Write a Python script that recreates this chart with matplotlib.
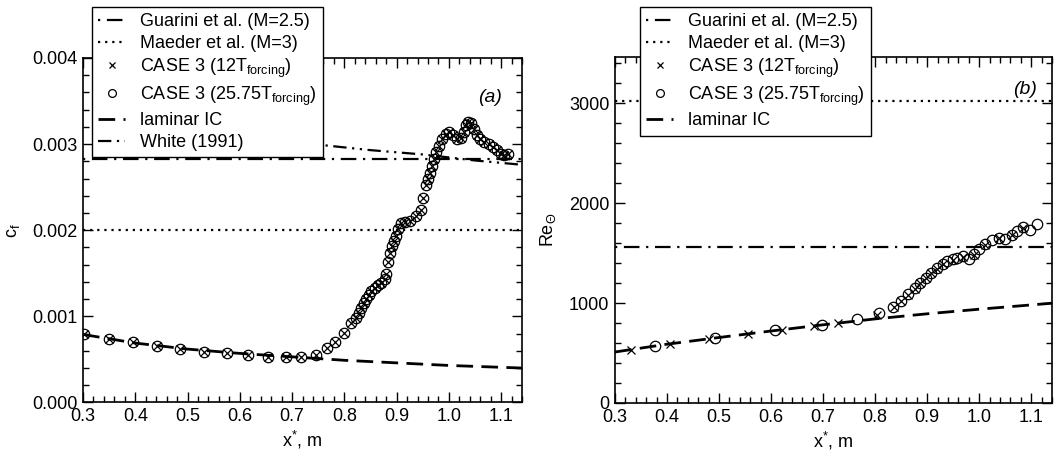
import matplotlib
matplotlib.use("Agg")
import matplotlib.pyplot as plt
from matplotlib.ticker import MultipleLocator

plt.rcParams['font.family'] = ['Liberation Sans', 'DejaVu Sans']
plt.rcParams['mathtext.fontset'] = 'custom'
plt.rcParams['mathtext.rm'] = 'Liberation Sans'
plt.rcParams['mathtext.it'] = 'Liberation Sans:italic'
plt.rcParams['font.size'] = 13

# ---- panel (a): skin friction ----
lam_cf_x = [0.30, 0.40, 0.50, 0.60, 0.70, 0.80, 0.90, 1.00, 1.14]
lam_cf = [0.00079, 0.00069, 0.00062, 0.00057, 0.00053, 0.00049, 0.00046, 0.00043, 0.00040]

guarini_cf = 0.00283
maeder_cf = 0.00200

white_x = [0.45, 0.60, 0.756, 0.85, 0.95, 1.05, 1.14]
white_cf = [0.00310, 0.00305, 0.00299, 0.00293, 0.00288, 0.00281, 0.00276]

case3_cf_x = [0.302, 0.350, 0.395, 0.441, 0.486, 0.531, 0.575, 0.616, 0.654, 0.688,
              0.718, 0.745, 0.766, 0.783, 0.799, 0.813, 0.822, 0.828, 0.832, 0.837,
              0.842, 0.847, 0.851, 0.858, 0.864, 0.871, 0.877, 0.880, 0.883, 0.888,
              0.892, 0.895, 0.898, 0.902, 0.909, 0.917, 0.925, 0.937, 0.947, 0.951,
              0.956, 0.960, 0.964, 0.967, 0.971, 0.976, 0.981, 0.987, 0.995, 1.001,
              1.007, 1.015, 1.023, 1.028, 1.032, 1.036, 1.042, 1.049, 1.053, 1.060,
              1.068, 1.076, 1.084, 1.092, 1.100, 1.106, 1.113]
case3_cf = [0.00079, 0.00074, 0.00070, 0.00066, 0.00062, 0.00059, 0.00057, 0.00055, 0.00053, 0.00053,
            0.00053, 0.00055, 0.00063, 0.00070, 0.00081, 0.00092, 0.00098, 0.00104, 0.00110, 0.00116,
            0.00120, 0.00125, 0.00129, 0.00133, 0.00136, 0.00139, 0.00143, 0.00149, 0.00163, 0.00174,
            0.00182, 0.00188, 0.00193, 0.00201, 0.00208, 0.00210, 0.00211, 0.00216, 0.00223, 0.00238,
            0.00252, 0.00260, 0.00267, 0.00275, 0.00283, 0.00291, 0.00298, 0.00306, 0.00312, 0.00314,
            0.00310, 0.00306, 0.00307, 0.00314, 0.00322, 0.00326, 0.00324, 0.00318, 0.00310, 0.00306,
            0.00303, 0.00300, 0.00297, 0.00293, 0.00289, 0.00287, 0.00288]

# ---- panel (b): momentum thickness Reynolds number ----
lam_re_x = [0.30, 0.40, 0.50, 0.60, 0.70, 0.80, 0.90, 1.00, 1.14]
lam_re = [510, 588, 655, 720, 782, 841, 892, 938, 998]

guarini_re = 1560
maeder_re = 3020

x12_re_x = [0.331, 0.406, 0.481, 0.555, 0.620, 0.682, 0.729, 0.803, 0.836, 0.850,
            0.863, 0.876, 0.887, 0.898, 0.907, 0.919, 0.930, 0.949, 0.968, 0.990,
            1.012, 1.038, 1.063, 1.085]
x12_re = [530, 593, 639, 692, 734, 772, 799, 884, 958, 1020,
          1085, 1145, 1200, 1250, 1300, 1345, 1390, 1435, 1465, 1485,
          1585, 1650, 1680, 1755]

x25_re_x = [0.376, 0.493, 0.607, 0.698, 0.765, 0.808, 0.834, 0.850, 0.863, 0.876,
            0.887, 0.898, 0.907, 0.919, 0.930, 0.939, 0.949, 0.958, 0.968, 0.981,
            0.990, 1.000, 1.012, 1.025, 1.038, 1.050, 1.063, 1.073, 1.085, 1.098,
            1.112]
x25_re = [566, 648, 725, 783, 843, 902, 963, 1023, 1089, 1149,
          1205, 1254, 1304, 1347, 1393, 1420, 1437, 1453, 1470, 1437,
          1487, 1536, 1586, 1626, 1652, 1636, 1685, 1718, 1758, 1735,
          1787]

XLIM = (0.3, 1.14)

fig = plt.figure(figsize=(10.6, 4.58), dpi=100)
ax1 = fig.add_axes([0.0783, 0.1212, 0.4142, 0.7522])
ax2 = fig.add_axes([0.5802, 0.1201, 0.4123, 0.7554])

sub = r'$_{\mathregular{forcing}}$'
guarini_ls = (0, (1, 3, 7, 3))
white_ls = (0, (6, 2.5, 1, 2.5, 1, 2.5))
dash_ls = (0, (6, 3))
dot_ls = (0, (1, 2.2))

legend_kw = dict(loc='upper left', bbox_transform=fig.transFigure, frameon=True,
                 fancybox=False, edgecolor='black', framealpha=1, fontsize=13,
                 handlelength=1.5, handletextpad=0.8, borderpad=0.35, labelspacing=0.26,
                 borderaxespad=0, markerscale=0.75)


def style_axes(ax):
    ax.set_xlim(*XLIM)
    ax.xaxis.set_major_locator(MultipleLocator(0.1))
    ax.xaxis.set_minor_locator(MultipleLocator(0.02))
    ax.tick_params(which='both', direction='in', top=True, right=True, labelsize=13)
    ax.tick_params(which='major', length=7, width=1.0, pad=4)
    ax.tick_params(which='minor', length=4, width=1.0)
    for s in ax.spines.values():
        s.set_linewidth(1.2)
    ax.set_xlabel(r'x$^{*}$, m', fontsize=13, labelpad=3)


# panel (a)
ax1.plot(XLIM, [guarini_cf, guarini_cf], color='black', lw=1.6, ls=guarini_ls,
         label='Guarini et al. (M=2.5)')
ax1.plot(XLIM, [maeder_cf, maeder_cf], color='black', lw=1.6, ls=dot_ls,
         label='Maeder et al. (M=3)')
ax1.plot(case3_cf_x, case3_cf, ls='none', marker='x', ms=5.5, mew=0.9, color='black',
         label='CASE 3 (12T' + sub + ')')
ax1.plot(case3_cf_x, case3_cf, ls='none', marker='o', ms=7.5, mew=0.9, mfc='none',
         color='black', label='CASE 3 (25.75T' + sub + ')')
ax1.plot(lam_cf_x, lam_cf, color='black', lw=2.0, ls=dash_ls, label='laminar IC')
ax1.plot(white_x, white_cf, color='black', lw=1.6, ls=white_ls, label='White (1991)')
style_axes(ax1)
ax1.set_ylim(0, 0.004)
ax1.yaxis.set_major_locator(MultipleLocator(0.001))
ax1.yaxis.set_minor_locator(MultipleLocator(0.0002))
ax1.yaxis.set_major_formatter(plt.FormatStrFormatter('%.3f'))
ax1.set_ylabel(r'c$_{\mathregular{f}}$', fontsize=13, labelpad=7)
ax1.text(0.955, 0.885, '(a)', transform=ax1.transAxes, style='italic', fontsize=14,
         ha='right', va='center')
ax1.legend(bbox_to_anchor=(0.0868, 0.985), **legend_kw)

# panel (b)
ax2.plot(XLIM, [guarini_re, guarini_re], color='black', lw=1.6, ls=guarini_ls,
         label='Guarini et al. (M=2.5)')
ax2.plot(XLIM, [maeder_re, maeder_re], color='black', lw=1.6, ls=dot_ls,
         label='Maeder et al. (M=3)')
ax2.plot(x12_re_x, x12_re, ls='none', marker='x', ms=5.5, mew=0.9, color='black',
         label='CASE 3 (12T' + sub + ')')
ax2.plot(x25_re_x, x25_re, ls='none', marker='o', ms=7.5, mew=0.9, mfc='none',
         color='black', label='CASE 3 (25.75T' + sub + ')')
ax2.plot(lam_re_x, lam_re, color='black', lw=2.0, ls=dash_ls, label='laminar IC')
style_axes(ax2)
ax2.set_ylim(0, 3460)
ax2.yaxis.set_major_locator(MultipleLocator(1000))
ax2.yaxis.set_minor_locator(MultipleLocator(200))
ax2.set_ylabel(r'Re$_{\Theta}$', fontsize=13, labelpad=8)
ax2.text(0.965, 0.905, '(b)', transform=ax2.transAxes, style='italic', fontsize=14,
         ha='right', va='center')
ax2.legend(bbox_to_anchor=(0.6038, 0.985), **legend_kw)

fig.savefig('out.png', dpi=100)
